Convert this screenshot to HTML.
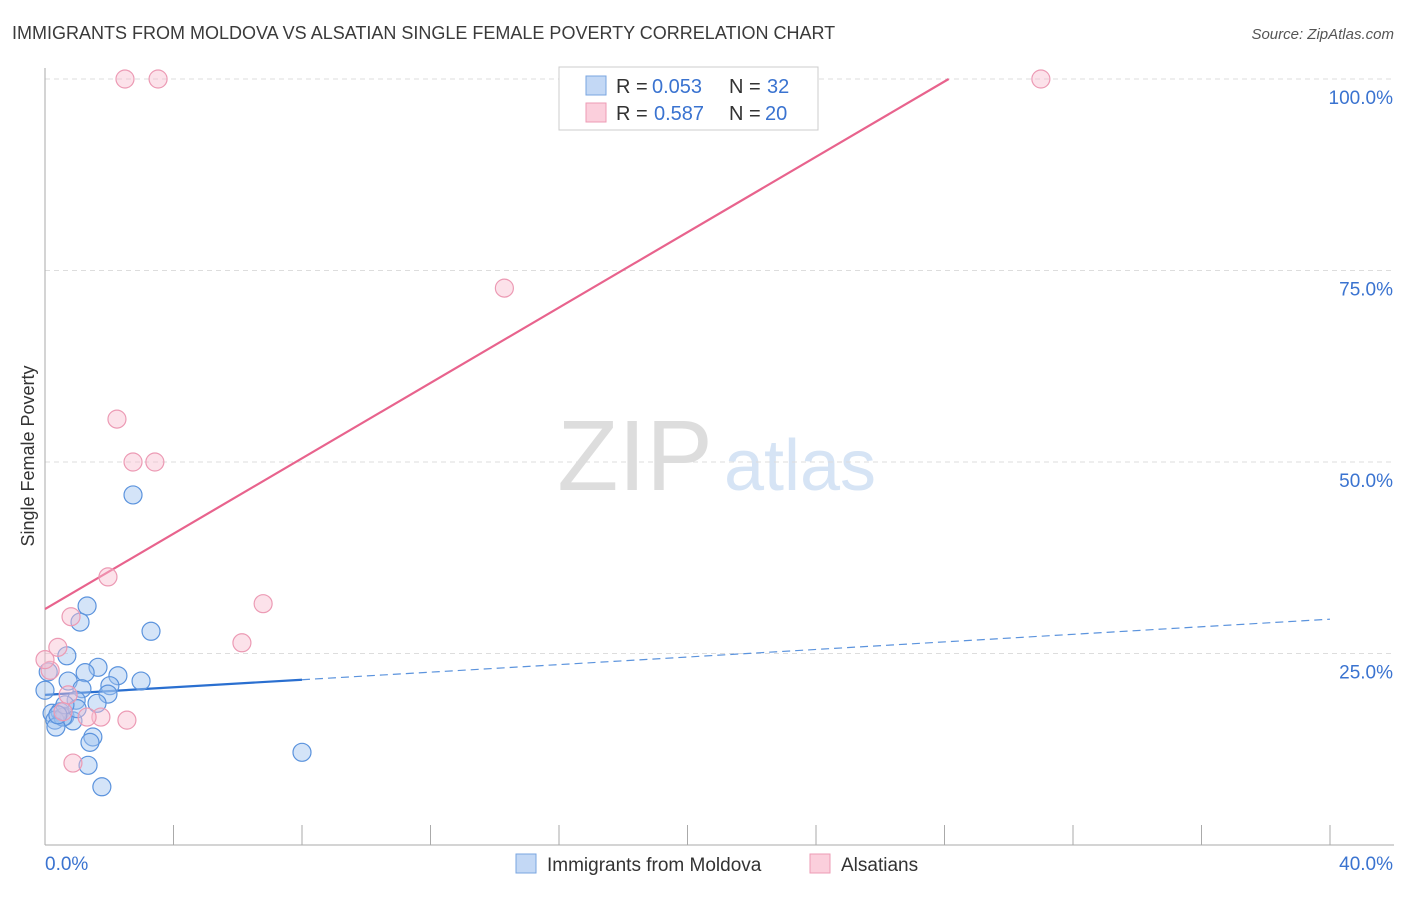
<!DOCTYPE html>
<html><head><meta charset="utf-8"><style>
body{margin:0;background:#fff;font-family:"Liberation Sans",sans-serif}
svg text{font-family:"Liberation Sans",sans-serif}
</style></head><body>
<svg width="1406" height="892" id="c">
<text x="12" y="39" font-size="18" fill="#3a3a3a">IMMIGRANTS FROM MOLDOVA VS ALSATIAN SINGLE FEMALE POVERTY CORRELATION CHART</text>
<text x="1394" y="39" font-size="15" fill="#555" font-style="italic" text-anchor="end">Source: ZipAtlas.com</text>
<text x="34" y="456" font-size="18" fill="#333" text-anchor="middle" transform="rotate(-90 34 456)">Single Female Poverty</text>
<g><text x="635" y="490" font-size="100" fill="#ddd" font-family="Liberation Serif" text-anchor="middle">ZIP</text><text x="800" y="490" font-size="72" fill="#d6e4f5" text-anchor="middle">atlas</text></g>
<g id="grid"></g><g id="axes"></g><g id="lines"></g><g id="pts"></g>
<g>
<rect x="559" y="67" width="259" height="63" fill="#fff" stroke="#ccc"/>
<rect x="586" y="76" width="20" height="19" fill="#c3d8f5" stroke="#7aa6e0"/>
<rect x="586" y="103" width="20" height="19" fill="#fbcfdc" stroke="#ee9bb5"/>
<text x="616" y="93" font-size="20" fill="#333">R =</text><text x="652" y="93" font-size="20" fill="#3a73d0">0.053</text>
<text x="729" y="93" font-size="20" fill="#333">N =</text><text x="767" y="93" font-size="20" fill="#3a73d0">32</text>
<text x="616" y="120" font-size="20" fill="#333">R =</text><text x="654" y="120" font-size="20" fill="#3a73d0">0.587</text>
<text x="729" y="120" font-size="20" fill="#333">N =</text><text x="765" y="120" font-size="20" fill="#3a73d0">20</text>
</g>
<g>
<rect x="516" y="854" width="20" height="19" fill="#c3d8f5" stroke="#7aa6e0"/>
<text x="547" y="871" font-size="19" fill="#333">Immigrants from Moldova</text>
<rect x="810" y="854" width="20" height="19" fill="#fbcfdc" stroke="#ee9bb5"/>
<text x="841" y="871" font-size="19" fill="#333">Alsatians</text>
</g>
</svg>
<script>
const xTickLabels=["0.0%","40.0%"];
const yTicks=[25,50,75,100];
const yTickLabels=["25.0%","50.0%","75.0%","100.0%"];
const blueX=[2.74,1.31,1.09,3.30,0.68,1.65,1.25,2.27,2.99,0.72,2.02,1.15,1.96,0.97,1.62,0.22,0.47,0.62,0.31,0.87,0.56,0.34,1.49,1.40,8.0,1.34,1.77,0.1,0.0,1.0,0.62,0.4];
const blueY=[45.7,31.2,29.1,27.9,24.7,23.2,22.5,22.1,21.4,21.4,20.8,20.4,19.7,18.9,18.5,17.2,17.4,16.8,16.3,16.2,16.7,15.4,14.1,13.4,12.1,10.4,7.6,22.6,20.2,17.8,18.3,17.0];
const pinkX=[2.49,3.52,31.0,14.3,2.24,2.74,3.42,1.96,6.79,0.81,6.13,0.40,0.16,0.72,1.74,1.31,2.55,0.87,0.56,0.0];
const pinkY=[100,100,100,72.7,55.6,50,50,35,31.5,29.8,26.4,25.8,22.8,19.6,16.7,16.7,16.3,10.7,17.4,24.2];
const blueFit=[19.6,0.247];
const pinkFit=[30.8,2.46];
const NS="http://www.w3.org/2000/svg";
const X=v=>45+v/40*1285, Y=v=>845-v/25*191.5;
function mk(p,t,a){const e=document.createElementNS(NS,t);for(const k in a)e.setAttribute(k,a[k]);document.getElementById(p).appendChild(e);return e;}
yTicks.forEach((t,i)=>{
 let g=mk('grid','line',{x1:45,x2:1394,y1:Y(t),y2:Y(t),stroke:'#ddd','stroke-dasharray':'5,4'});
 
 
 let tx=mk('axes','text',{x:1393,y:Y(t)+25,'font-size':19,fill:'#3a73d0','text-anchor':'end'});tx.textContent=yTickLabels[i];
 
 
});
mk('axes','line',{x1:45,x2:45,y1:68,y2:845,stroke:'#aaa'});
mk('axes','line',{x1:45,x2:1394,y1:845,y2:845,stroke:'#aaa'});
for(let i=0;i<=10;i++){mk('axes','line',{x1:X(i*4),x2:X(i*4),y1:825,y2:845,stroke:'#aaa'});}
let l0=mk('axes','text',{x:45,y:870,'font-size':19,fill:'#3a73d0'});l0.textContent=xTickLabels[0];


let l1=mk('axes','text',{x:1393,y:870,'font-size':19,fill:'#3a73d0','text-anchor':'end'});l1.textContent=xTickLabels[1];


blueX.forEach((x,i)=>{let c=mk('pts','circle',{cx:X(x),cy:Y(blueY[i]),r:9,fill:'rgba(160,196,240,0.45)',stroke:'#5b93dd','stroke-width':1.2});
 
 });
pinkX.forEach((x,i)=>{let c=mk('pts','circle',{cx:X(x),cy:Y(pinkY[i]),r:9,fill:'rgba(248,190,208,0.45)',stroke:'#ec9ab4','stroke-width':1.2});
 
 });
let pe=(100-pinkFit[0])/pinkFit[1];
let pl=mk('lines','line',{x1:X(0),y1:Y(pinkFit[0]),x2:X(pe),y2:Y(100),stroke:'#e8638d','stroke-width':2.2});


let bl=mk('lines','line',{x1:X(0),y1:Y(blueFit[0]),x2:X(8),y2:Y(blueFit[0]+8*blueFit[1]),stroke:'#2a6fd0','stroke-width':2.2});


let bd=mk('lines','line',{x1:X(8),y1:Y(blueFit[0]+8*blueFit[1]),x2:X(40),y2:Y(blueFit[0]+40*blueFit[1]),stroke:'#5b93dd','stroke-width':1.2,'stroke-dasharray':'8,5'});


</script>
</body></html>
